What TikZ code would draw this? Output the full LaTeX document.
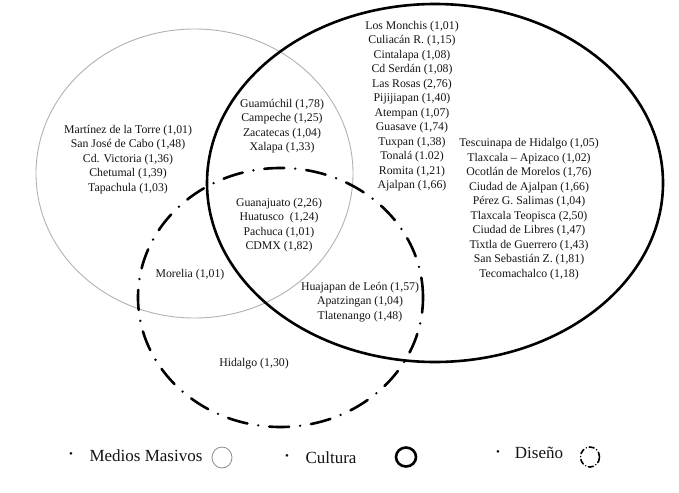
\documentclass[tikz,border=0pt]{standalone}
\usepackage{fontspec}
\setmainfont{Liberation Serif}
\begin{document}
\begin{tikzpicture}[x=1pt,y=-1pt,
  lbl/.style={align=center, inner sep=0pt, text=black!92, font=\fontsize{11.8}{14.5}\selectfont},
  leg/.style={inner sep=0pt, anchor=base, text=black!92, font=\fontsize{17}{20}\selectfont},
  bul/.style={inner sep=0pt, text=black!92, font=\fontsize{11}{12}\selectfont},
  medios/.style={draw=black!30, line width=0.9pt},
  cultura/.style={draw=black, line width=2.6pt},
  diseno/.style={draw=black, line width=2.6pt, line cap=round, dash pattern=on 20pt off 11pt on 0pt off 11pt}]
\useasboundingbox[fill=white] (0,0) rectangle (679,492);
% circles
\draw[medios] (194.5,173.5) ellipse [x radius=158.5pt, y radius=144.5pt];
\draw[diseno] (280.5,297.5) ellipse [x radius=142.5pt, y radius=129.5pt];
\draw[cultura] (435,183) ellipse [x radius=228pt, y radius=179pt];
% labels
\node[lbl] (m) at (128,159.5) {Martínez de la Torre (1,01)\\San José de Cabo (1,48)\\Cd. Victoria (1,36)\\Chetumal (1,39)\\Tapachula (1,03)};
\node[lbl] (mc) at (282,126) {Guamúchil (1,78)\\Campeche (1,25)\\Zacatecas (1,04)\\Xalapa (1,33)};
\node[lbl] (mcd) at (279,225) {Guanajuato (2,26)\\Huatusco~ (1,24)\\Pachuca (1,01)\\CDMX (1,82)};
\node[lbl] (md) at (190,275) {Morelia (1,01)};
\node[lbl] (cd) at (360,302) {Huajapan de León (1,57)\\Apatzingan (1,04)\\Tlatenango (1,48)};
\node[lbl] (d) at (254,364) {Hidalgo (1,30)};
\node[lbl] (c1) at (412,106) {Los Monchis (1,01)\\Culiacán R. (1,15)\\Cintalapa (1,08)\\Cd Serdán (1,08)\\Las Rosas (2,76)\\Pijijiapan (1,40)\\Atempan (1,07)\\Guasave (1,74)\\Tuxpan (1,38)\\Tonalá (1.02)\\Romita (1,21)\\Ajalpan (1,66)};
\node[lbl] (c2) at (529,209) {Tescuinapa de Hidalgo (1,05)\\Tlaxcala – Apizaco (1,02)\\Ocotlán de Morelos (1,76)\\Ciudad de Ajalpan (1,66)\\Pérez G. Salimas (1,04)\\Tlaxcala Teopisca (2,50)\\Ciudad de Libres (1,47)\\Tixtla de Guerrero (1,43)\\San Sebastián Z. (1,81)\\Tecomachalco (1,18)};
% legend
\node[bul] (b1) at (71,455) {•};
\node[leg] (l1) at (146,461) {Medios Masivos};
\draw[draw=black!45, line width=0.8pt] (222,457.5) ellipse [x radius=10pt, y radius=10.5pt];
\node[bul] (b2) at (287,457) {•};
\node[leg] (l2) at (331,463) {Cultura};
\draw[draw=black, line width=2.6pt] (406,457) ellipse [x radius=10pt, y radius=9.5pt];
\node[bul] (b3) at (498,453) {•};
\node[leg] (l3) at (539,458) {Diseño};
\draw[draw=black, line width=1.6pt, line cap=round, dash pattern=on 5pt off 3pt on 0pt off 3pt] (590,457) ellipse [x radius=9.5pt, y radius=10pt];
\end{tikzpicture}
\end{document}
